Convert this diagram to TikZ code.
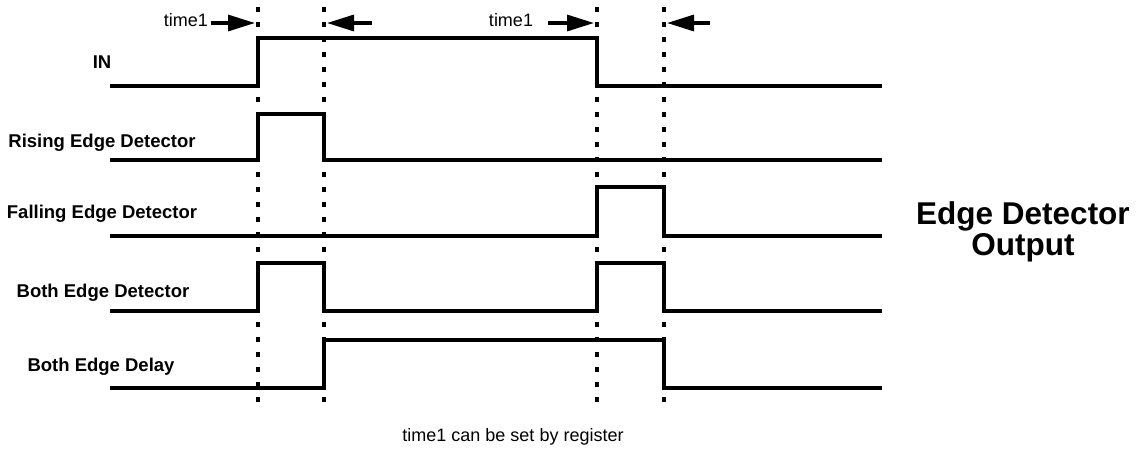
\documentclass[tikz,border=0pt]{standalone}
\usepackage{fontspec}
\setmainfont{Liberation Sans}
\usetikzlibrary{arrows.meta}
\begin{document}
\begin{tikzpicture}[x=1pt,y=-1pt,
  sig/.style={line width=3.2pt, line join=miter},
  marker/.style={line width=3.2pt, dash pattern=on 5pt off 10pt},
  tarrow/.style={line width=3.2pt, -{Triangle[length=27pt 0 0,width=16pt 0 0]}},
  lbl/.style={font=\fontsize{18.5}{21}\selectfont\bfseries, inner sep=0pt},
  tlbl/.style={font=\fontsize{18}{21}\selectfont, inner sep=0pt},
  title/.style={font=\fontsize{31.5}{31}\selectfont\bfseries, align=center, inner sep=0pt}]
\useasboundingbox (0,0) rectangle (1140,450);
% marker lines
\foreach \n/\x in {a/258,b/324,c/597,d/664}{
  \coordinate (\n top) at (\x,7);
  \coordinate (\n bot) at (\x,410);
  \draw[marker] (\n top) -- (\n bot);
}
% signals
\draw[sig] (110,86) -- (258,86) -- (258,38) -- (597,38) -- (597,86) -- (882,86);
\draw[sig] (110,160) -- (258,160) -- (258,114) -- (324,114) -- (324,160) -- (882,160);
\draw[sig] (110,236) -- (597,236) -- (597,187) -- (664,187) -- (664,236) -- (882,236);
\draw[sig] (110,311) -- (258,311) -- (258,263) -- (324,263) -- (324,311) -- (597,311)
  -- (597,263) -- (664,263) -- (664,311) -- (882,311);
\draw[sig] (110,388) -- (324,388) -- (324,340) -- (664,340) -- (664,388) -- (882,388);
% labels
\node[lbl] (lin) at (102,62) {IN};
\node[lbl] (lrise) at (102,143) {Rising Edge Detector};
\node[lbl] (lfall) at (102,214) {Falling Edge Detector};
\node[lbl] (lboth) at (103,293) {Both Edge Detector};
\node[lbl] (ldelay) at (101,367) {Both Edge Delay};
\node[title] (ttl) at (1023,232) {Edge Detector\\Output};
% time arrows
\node[tlbl] (t1) at (186,20) {time1};
\node[tlbl] (t2) at (511,20) {time1};
\coordinate (a1s) at (211,23); \coordinate (a1e) at (255,23);
\coordinate (a2s) at (372,23); \coordinate (a2e) at (327,23);
\coordinate (a3s) at (548,23); \coordinate (a3e) at (594,23);
\coordinate (a4s) at (710,23); \coordinate (a4e) at (667,23);
\draw[tarrow] (a1s) -- (a1e);
\draw[tarrow] (a2s) -- (a2e);
\draw[tarrow] (a3s) -- (a3e);
\draw[tarrow] (a4s) -- (a4e);
\node[tlbl] (note) at (513,437) {time1 can be set by register};
\end{tikzpicture}
\end{document}
